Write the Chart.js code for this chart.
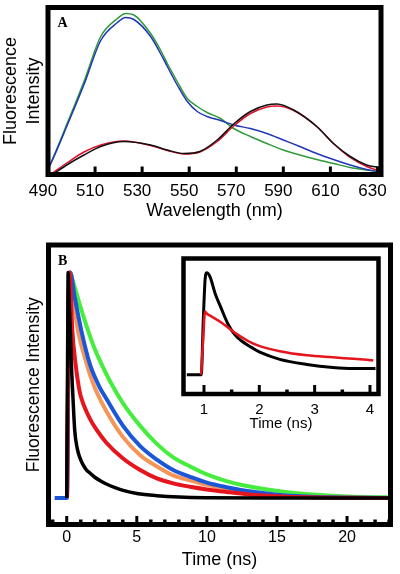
<!DOCTYPE html>
<html>
<head>
<meta charset="utf-8">
<script src="https://cdn.jsdelivr.net/npm/chart.js@4.4.1/dist/chart.umd.min.js"></script>
<style>
  html, body { margin: 0; padding: 0; background: #fff; }
  #wrap { position: relative; width: 400px; height: 574px; overflow: hidden; }
  canvas { position: absolute; }
  #specChart { left: 0; top: 0; }
  #decayChart { left: 0; top: 222px; }
  #insetChart { left: 160px; top: 240px; }
</style>
</head>
<body>
<div id="wrap">
  <canvas id="specChart" width="400" height="222"></canvas>
  <canvas id="decayChart" width="400" height="352"></canvas>
  <canvas id="insetChart" width="230" height="200"></canvas>
</div>
<script>
// ---- panel A: emission spectra (intensity in arbitrary units) ----
const specTicks = [490, 510, 530, 550, 570, 590, 610, 630];

const greenNm  = [490.5, 491.2, 498.3, 505.3, 512.4, 519.5, 523, 526.5, 533.6, 537.8, 540.7, 544.9, 549.2, 553.4, 557.6, 563.3, 568.9, 576, 583, 590, 597, 604.2, 611.3, 618.4, 625.4, 629.7, 631.5];
const greenInt = [8, 11.5, 52, 93, 138, 156, 161, 159.5, 141, 124.5, 111, 93, 76, 68, 62, 56, 46, 38, 31, 24.5, 19.5, 15, 11, 7, 4.5, 3, 2];

const blueNm  = [490.5, 491.2, 498.3, 505.3, 512.4, 519.5, 523, 526.5, 533.6, 537.8, 540.7, 544.9, 549.2, 553.4, 557.6, 563.3, 568.9, 576, 583, 590, 597, 604.2, 611.3, 618.4, 625.4, 629.7, 631.5];
const blueInt = [8, 11, 50, 90, 134, 152, 157, 155, 138, 121, 108, 89.5, 73, 63, 58, 54, 49.5, 46, 41, 34.5, 28, 21, 15, 9.5, 5, 3, 2];

const blackNm  = [492.6, 498.3, 505.3, 512.4, 522.3, 533.6, 540.7, 547.7, 554.5, 561.9, 568.9, 576, 583, 587.3, 594.4, 604.2, 611.3, 618.4, 625.4, 630.4, 631.5];
const blackInt = [1, 10, 19.5, 28, 33, 29.5, 24.5, 21, 23, 34.5, 50.5, 63, 69.5, 70.5, 64.5, 48, 31, 18, 9.5, 7, 6.5];

const redNm  = [492, 498.3, 505.3, 512.4, 522.3, 533.6, 540.7, 547.7, 554.5, 561.9, 568.9, 576, 583, 587.3, 594.4, 604.2, 611.3, 618.4, 625.4, 630.4, 631.5];
const redInt = [1.5, 12, 22.5, 29.5, 33.5, 29, 24, 20.5, 22.5, 33, 48.5, 61, 67.5, 68.5, 64, 48, 31, 17, 8, 4, 3.5];

// ---- panel B: decays (normalized) ----
const decayMajor = [0, 5, 10, 15, 20];
const decayMinor = [-1, 1, 2, 3, 4, 6, 7, 8, 9, 11, 12, 13, 14, 16, 17, 18, 19, 21, 22, 23];

const blackT = [0.0, 0.06, 0.1, 0.16, 0.26, 0.33, 0.45, 0.57, 0.75, 0.93, 1.14, 1.4, 1.67, 2.0, 2.36, 2.83, 3.5, 4.02, 5.0, 6.43, 8, 10, 14, 18, 23];
const blackV = [0, 0.6, 1.0, 0.89, 0.74, 0.60, 0.44, 0.30, 0.22, 0.18, 0.15, 0.125, 0.11, 0.092, 0.078, 0.062, 0.045, 0.034, 0.02, 0.01, 0.004, 0.001, 0, 0, 0];

const redT = [0.02, 0.12, 0.2, 0.4, 0.64, 0.93, 1.17, 1.4, 1.67, 2.1, 2.83, 4.02, 5.24, 6.43, 7.6, 8.8, 10, 11.4, 13, 15, 17, 20, 23];
const redV = [0, 0.75, 1.0, 0.74, 0.59, 0.47, 0.42, 0.385, 0.35, 0.305, 0.245, 0.175, 0.124, 0.087, 0.065, 0.05, 0.038, 0.027, 0.016, 0.008, 0.003, 0.001, 0];

const blueT = [-0.86, 0.02, 0.15, 0.25, 0.57, 1.05, 1.67, 2.36, 2.83, 4.02, 5.24, 6.43, 7.6, 8.8, 10, 11.4, 13, 15, 17, 19, 23];
const blueV = [0, 0, 0.8, 1.0, 0.89, 0.74, 0.59, 0.49, 0.44, 0.32, 0.23, 0.17, 0.124, 0.094, 0.068, 0.048, 0.03, 0.015, 0.007, 0.003, 0];

const orangeT = [0.02, 0.15, 0.25, 0.45, 0.81, 1.4, 1.67, 2.1, 2.83, 4.02, 5.24, 6.43, 7.6, 8.8, 10, 11.4, 13, 15, 17, 20, 23];
const orangeV = [0, 0.8, 1.0, 0.89, 0.74, 0.60, 0.545, 0.475, 0.385, 0.27, 0.19, 0.14, 0.10, 0.078, 0.058, 0.04, 0.024, 0.011, 0.005, 0.001, 0];

const greenT = [0.02, 0.15, 0.25, 0.45, 1.17, 1.88, 2.36, 3.07, 4.02, 5.24, 6.43, 7.6, 8.8, 10, 11.4, 12.5, 14.3, 16.6, 19, 21, 23];
const greenV = [0, 0.8, 1.0, 0.96, 0.81, 0.68, 0.61, 0.52, 0.42, 0.32, 0.24, 0.18, 0.14, 0.105, 0.075, 0.058, 0.038, 0.02, 0.01, 0.005, 0.003];

// ---- inset: early time ----
const insetMajor = [1, 2, 3, 4];
const insetMinor = [1.5, 2.5, 3.5];

const inBlackT = [0.69, 0.95, 0.99, 1.02, 1.05, 1.11, 1.2, 1.32, 1.44, 1.56, 1.68, 1.85, 2.01, 2.37, 2.86, 3.33, 3.7, 4.1];
const inBlackV = [0, 0, 0.57, 0.93, 1.0, 0.96, 0.80, 0.64, 0.49, 0.39, 0.33, 0.27, 0.22, 0.15, 0.10, 0.07, 0.06, 0.06];

const inRedT = [0.95, 0.99, 1.02, 1.05, 1.14, 1.32, 1.56, 1.8, 2.01, 2.37, 2.86, 3.33, 3.7, 4.06];
const inRedV = [0, 0.4, 0.62, 0.6, 0.57, 0.51, 0.41, 0.33, 0.28, 0.23, 0.19, 0.17, 0.155, 0.14];

Chart.defaults.font.family = '"Liberation Sans", Arial, sans-serif';
Chart.defaults.color = '#000';

const pts = (xs, ys) => xs.map((x, i) => ({ x: x, y: ys[i] }));

// thick frame, inward tick marks from the x scales, panel letter, optional white fill (inset)
const framePlugin = {
    id: 'frame',
    beforeDraw(chart, args, opts) {
        if (!opts.fill) return;
        const { ctx, chartArea: a } = chart;
        ctx.save();
        ctx.fillStyle = '#fff';
        ctx.fillRect(a.left - 3, a.top - 3, a.right - a.left + 6, a.bottom - a.top + 6);
        ctx.restore();
    },
    afterDraw(chart, args, opts) {
        const { ctx, chartArea: a } = chart;
        ctx.save();
        ctx.strokeStyle = '#000';
        (opts.marks || []).forEach(m => {
            const sc = chart.scales[m.scale];
            ctx.lineWidth = m.width;
            sc.ticks.forEach(t => {
                const px = sc.getPixelForValue(t.value);
                ctx.beginPath();
                ctx.moveTo(px, a.bottom);
                ctx.lineTo(px, a.bottom - m.len);
                ctx.stroke();
            });
        });
        ctx.lineWidth = opts.width || 5;
        ctx.strokeRect(a.left, a.top, a.right - a.left, a.bottom - a.top);
        if (opts.letter) {
            ctx.fillStyle = '#000';
            ctx.font = 'bold 14px "Liberation Serif", "DejaVu Serif", serif';
            ctx.fillText(opts.letter, a.left + 9.5, a.top + 19.5);
        }
        ctx.restore();
    }
};

const line = (data, color, width) => ({
    data: data, borderColor: color, borderWidth: width, pointRadius: 0,
    fill: false, cubicInterpolationMode: 'monotone'
});

const tickAxis = (min, max, vals, extra) => Object.assign({
    type: 'linear', position: 'bottom', min: min, max: max,
    afterBuildTicks: s => { s.ticks = vals.map(v => ({ value: v })); },
    grid: { display: false, drawTicks: false },
    border: { display: false }
}, extra);

// panel A
new Chart(document.getElementById('specChart'), {
    type: 'line',
    data: {
        datasets: [
            line(pts(blackNm, blackInt), '#111111', 1.5),
            line(pts(redNm, redInt), '#e0102c', 1.5),
            line(pts(blueNm, blueInt), '#2236b8', 1.5),
            line(pts(greenNm, greenInt), '#2e9a3a', 1.5)
        ]
    },
    options: {
        responsive: false, animation: false, devicePixelRatio: 1,
        layout: { padding: { left: 0, right: 19, top: 7.5, bottom: 0 } },
        plugins: {
            legend: { display: false }, tooltip: { enabled: false },
            frame: { width: 5, letter: 'A', marks: [{ scale: 'x', len: 8, width: 3 }] }
        },
        scales: {
            x: tickAxis(490, 631.5, specTicks, {
                afterFit: s => { s.height = 47.5; },
                ticks: { autoSkip: false, maxRotation: 0, padding: 7, labelOffset: -5, font: { size: 17 } },
                title: { display: true, text: 'Wavelength (nm)', font: { size: 18 }, padding: { top: 0, bottom: 0 } }
            }),
            y: {
                min: 0, max: 167,
                afterFit: s => { s.width = 48; },
                ticks: { display: false }, grid: { display: false, drawTicks: false }, border: { display: false },
                title: { display: true, text: ['Fluorescence', 'Intensity'], font: { size: 18, lineHeight: 1.25 }, padding: { top: 0, bottom: 0 } }
            }
        }
    },
    plugins: [framePlugin]
});

// panel B
new Chart(document.getElementById('decayChart'), {
    type: 'line',
    data: {
        datasets: [
            line(pts(blackT, blackV), '#000000', 3.5),
            line(pts(redT, redV), '#e6141c', 4),
            line(pts(blueT, blueV), '#1a56d6', 4),
            line(pts(orangeT, orangeV), '#f5955a', 4),
            line(pts(greenT, greenV), '#46ec3e', 4)
        ]
    },
    options: {
        responsive: false, animation: false, devicePixelRatio: 1,
        layout: { padding: { left: 0, right: 9.5, top: 23, bottom: 0 } },
        plugins: {
            legend: { display: false }, tooltip: { enabled: false },
            frame: { width: 5, letter: 'B', marks: [{ scale: 'xMinor', len: 5, width: 3.5 }, { scale: 'x', len: 8.5, width: 3 }] }
        },
        scales: {
            xMinor: tickAxis(-1.3, 23.1, decayMinor, {
                weight: 0,
                afterFit: s => { s.height = 0; },
                ticks: { display: false }
            }),
            x: tickAxis(-1.3, 23.1, decayMajor, {
                weight: 1,
                afterFit: s => { s.height = 49.5; },
                ticks: { autoSkip: false, maxRotation: 0, padding: 3, font: { size: 16 } },
                title: { display: true, text: 'Time (ns)', font: { size: 18 }, padding: { top: 0, bottom: 3.2 } }
            }),
            y: {
                min: -0.1175, max: 1.122,
                afterFit: s => { s.width = 48.5; },
                ticks: { display: false }, grid: { display: false, drawTicks: false }, border: { display: false },
                title: { display: true, text: 'Fluorescence Intensity', font: { size: 17.5 }, padding: { top: 24, bottom: 0 } }
            }
        }
    },
    plugins: [framePlugin]
});

// inset
new Chart(document.getElementById('insetChart'), {
    type: 'line',
    data: {
        datasets: [
            line(pts(inRedT, inRedV), '#e6141c', 2.5),
            line(pts(inBlackT, inBlackV), '#000000', 3)
        ]
    },
    options: {
        responsive: false, animation: false, devicePixelRatio: 1,
        layout: { padding: { left: 23.5, right: 11.5, top: 18.5, bottom: 0 } },
        plugins: {
            legend: { display: false }, tooltip: { enabled: false },
            frame: { width: 4.5, fill: true, marks: [{ scale: 'xMinor', len: 4.5, width: 3.5 }, { scale: 'x', len: 9, width: 3 }] }
        },
        scales: {
            xMinor: tickAxis(0.63, 4.154, insetMinor, {
                weight: 0,
                afterFit: s => { s.height = 0; },
                ticks: { display: false }
            }),
            x: tickAxis(0.63, 4.154, insetMajor, {
                weight: 1,
                afterFit: s => { s.height = 46; },
                ticks: { autoSkip: false, maxRotation: 0, padding: 7, font: { size: 15 } },
                title: { display: true, text: 'Time (ns)', font: { size: 15 }, padding: { top: 0, bottom: 7 } }
            }),
            y: { display: false, min: -0.19, max: 1.14 }
        }
    },
    plugins: [framePlugin]
});
</script>
</body>
</html>
